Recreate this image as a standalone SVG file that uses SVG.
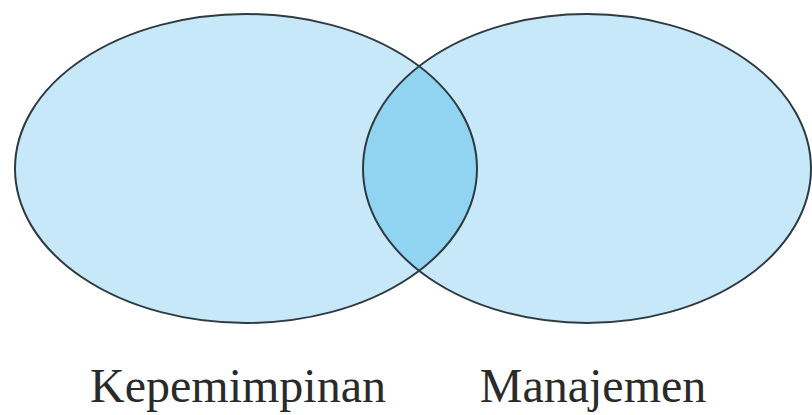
<svg xmlns="http://www.w3.org/2000/svg" width="812" height="415" viewBox="0 0 812 415">
<style>
.fill{fill:#c6e8f9;stroke:none}
.overlap{fill:#91d4f2;stroke:none}
.outline{fill:none;stroke:#2f3a40;stroke-width:2}
.label{font-family:"Liberation Serif","Times New Roman",serif;font-size:48px;fill:#2a2a2a;text-anchor:middle}
</style>
<defs>
<clipPath id="clipLeft"><ellipse cx="246" cy="168.5" rx="231" ry="154.5"/></clipPath>
</defs>
<rect width="812" height="415" fill="#ffffff"/>
<g id="kepemimpinan">
<ellipse class="fill" cx="246" cy="168.5" rx="231" ry="154.5"/>
</g>
<g id="manajemen">
<ellipse class="fill" cx="587" cy="168.5" rx="224" ry="154.5"/>
</g>
<g id="overlap">
<ellipse class="overlap" cx="587" cy="168.5" rx="224" ry="154.5" clip-path="url(#clipLeft)"/>
</g>
<g id="outlines">
<ellipse class="outline" cx="246" cy="168.5" rx="231" ry="154.5"/>
<ellipse class="outline" cx="587" cy="168.5" rx="224" ry="154.5"/>
</g>
<g id="labels">
<text class="label" x="238" y="402">Kepemimpinan</text>
<text class="label" x="593" y="402">Manajemen</text>
</g>
</svg>
